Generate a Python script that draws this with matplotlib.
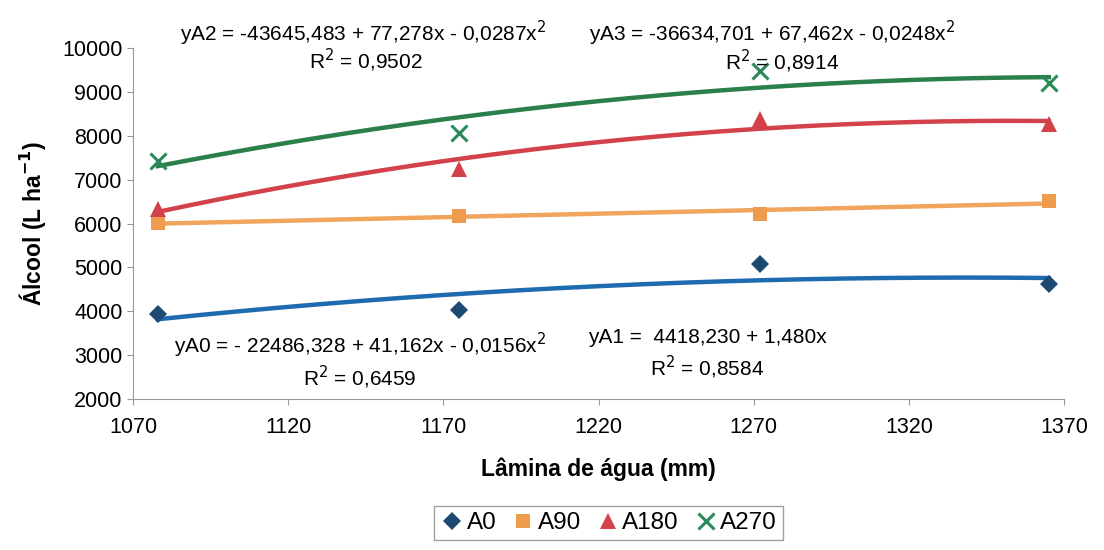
import numpy as np
import matplotlib
matplotlib.use("Agg")
import matplotlib.pyplot as plt

plt.rcParams["font.family"] = ["Liberation Sans", "DejaVu Sans"]

# Lâmina de água (mm)
lamina = [1078, 1175, 1272, 1365]

# Álcool (L/ha) per treatment
a0 = [3940, 4030, 5080, 4630]
a90 = [6020, 6170, 6210, 6520]
a180 = [6340, 7250, 8390, 8260]
a270 = [7430, 8060, 9470, 9210]

series = [
    ("A0", a0, 2, "#1d4a72", "#1f6bb0", "D", 9),
    ("A90", a90, 1, "#ee9b4e", "#f0a45c", "s", 10),
    ("A180", a180, 2, "#d3424a", "#d3424a", "^", 11),
    ("A270", a270, 2, "#2b8a5a", "#2a7f4a", "x", 11),
]

# equation text, R2 text, (x, y) of each line centre
equations = [
    ("yA2 = -43645,483 + 77,278x - 0,0287x$^{2}$", "R$^{2}$ = 0,9502",
     (1144, 10340), (1145, 9730)),
    ("yA3 = -36634,701 + 67,462x - 0,0248x$^{2}$", "R$^{2}$ = 0,8914",
     (1276, 10340), (1279, 9700)),
    ("yA0 = - 22486,328 + 41,162x - 0,0156x$^{2}$", "R$^{2}$ = 0,6459",
     (1143, 3230), (1143, 2500)),
    ("yA1 =  4418,230 + 1,480x", "R$^{2}$ = 0,8584",
     (1255, 3410), (1255, 2710)),
]

fig = plt.figure(figsize=(11.04, 5.5), dpi=100)
ax = fig.add_axes([0.1205, 0.2745, 0.8435, 0.638])

xs = np.linspace(lamina[0], lamina[-1], 200)
for name, ys, deg, mcol, lcol, mk, ms in series:
    coef = np.polyfit(lamina, ys, deg)
    ax.plot(xs, np.polyval(coef, xs), color=lcol, lw=3.2, zorder=2)
    if mk == "x":
        ax.plot(lamina, ys, ls="none", marker=mk, ms=ms, mew=2.2,
                color=mcol, label=name, zorder=3)
    else:
        ax.plot(lamina, ys, ls="none", marker=mk, ms=ms, mew=0,
                color=mcol, label=name, zorder=3)

for eq, r2, p_eq, p_r2 in equations:
    ax.text(*p_eq, eq, ha="center", va="center", fontsize=15, clip_on=False)
    ax.text(*p_r2, r2, ha="center", va="center", fontsize=15, clip_on=False)

ax.set_xlim(1070, 1370)
ax.set_ylim(2000, 10000)
ax.set_xticks(range(1070, 1371, 50))
ax.set_yticks(range(2000, 10001, 1000))
ax.tick_params(labelsize=15.5, color="#999999", length=4, direction="out")
ax.tick_params(axis="x", pad=9)
for s in ("top", "right"):
    ax.spines[s].set_visible(False)
for s in ("left", "bottom"):
    ax.spines[s].set_color("#999999")

ax.set_xlabel("Lâmina de água (mm)", fontsize=16.5, fontweight="bold", labelpad=14)
ax.set_ylabel("Álcool (L ha$^{\\mathbf{-1}}$)", fontsize=16.5, fontweight="bold", labelpad=10)

fig.legend(loc="center", bbox_to_anchor=(0.551, 0.049), ncol=4, fontsize=17.5,
           frameon=True, fancybox=False, edgecolor="#888888", handletextpad=0.1,
           columnspacing=0.6, handlelength=1.0, borderpad=0.25)

fig.savefig("out.png", dpi=100, facecolor="white")
